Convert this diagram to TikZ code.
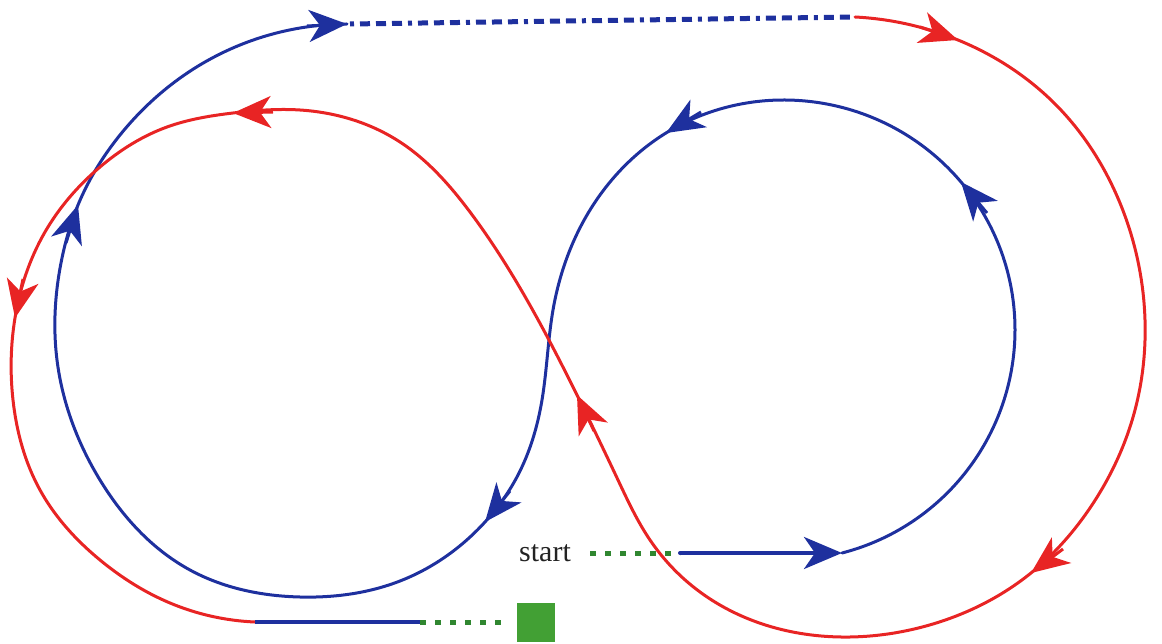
\documentclass[tikz,border=0pt]{standalone}
\usepackage{fontspec}
\newfontfamily\labelfont{Liberation Serif}
\usetikzlibrary{arrows.meta,hobby}
\definecolor{bl}{RGB}{30,48,158}
\definecolor{rd}{RGB}{232,36,36}
\definecolor{gr}{RGB}{48,135,48}
\definecolor{grbox}{RGB}{66,160,52}
\definecolor{txt}{RGB}{35,35,35}
\begin{document}
\begin{tikzpicture}[x=1pt,y=-1pt,
  blueline/.style={draw=bl, line width=3pt, line cap=round, line join=round},
  redline/.style={draw=rd, line width=3pt, line cap=round, line join=round},
  bigtip/.style={-{Stealth[length=38pt,width=32pt,inset=11pt]}},
  gdash/.style={draw=gr, line width=5pt, dash pattern=on 6pt off 9pt},
  bdashdot/.style={draw=bl, line width=5pt, dash pattern=on 4pt off 6pt on 10pt off 6pt on 10pt off 6pt on 10pt off 6pt}]
\useasboundingbox (0,0) rectangle (1162,644);

% ---- blue main curve (right loop, crossing, left loop)
\draw[blueline, use Hobby shortcut] (842,553) .. (961,478) .. (1015,330) .. (961,182)
 .. (785,100) .. (666,133) .. (590,210) .. (553,310) .. (542,400) .. (518,475)
 .. (485,522) .. (400,581) .. (300,597) .. (190,570) .. (100,480) .. (57,360)
 .. (62,258) .. (78,205) .. (120,135) .. (205,62) .. (347,24);

% ---- red main curve
\draw[redline, use Hobby shortcut] (855,17) .. (958,40) .. (1059,108) .. (1117,196)
 .. (1145,320) .. (1135,410) .. (1092,505) .. (1031,573) .. (926,626) .. (850,637)
 .. (772,627) .. (700,592) .. (650,540) .. (618,480) .. (577,395) .. (527,300)
 .. (470,212) .. (400,142) .. (300,110) .. (233,113) .. (167,127) .. (100,167)
 .. (45,232) .. (15,318) .. (13,400) .. (40,490) .. (100,560) .. (170,603) .. (255,622);

% ---- blue dash-dot top line
\coordinate (t1) at (350,24);
\coordinate (t2) at (855,17);
\draw[bdashdot] (t1) -- (t2);

% ---- start
\node[anchor=base west, inner sep=0pt, text=txt, font=\labelfont\fontsize{30}{36}\selectfont] (startlbl) at (519,561) {start};
\coordinate (s1) at (590,553);
\coordinate (s2) at (680,553);
\coordinate (s3) at (842,553);
\draw[gdash] (s1) -- (s2);
\draw[blueline, line width=4pt, bigtip] (s2) -- (s3);

% ---- end
\node[fill=grbox, minimum width=38pt, minimum height=39pt, inner sep=0pt] (goal) at (536,622) {};
\coordinate (e1) at (255,622);
\coordinate (e2) at (420,622);
\coordinate (e3) at (503,622);
\draw[blueline, line width=4pt, line cap=butt] (e1) -- (e2);
\draw[gdash] (e2) -- (e3);

% ---- blue arrowheads
\coordinate (b2t) at (961,182);  \coordinate (b2b) at (987,213);
\coordinate (b3t) at (666,133);  \coordinate (b3b) at (701,112);
\coordinate (b4t) at (485,522);  \coordinate (b4b) at (510,491);
\coordinate (b5t) at (78,205);   \coordinate (b5b) at (66,243);
\coordinate (b6t) at (347,24);   \coordinate (b6b) at (307,26);
\foreach \p in {b2,b3,b4,b5,b6}
  \draw[blueline, line cap=butt, bigtip] (\p b) -- (\p t);

% ---- red arrowheads
\coordinate (r1t) at (958,40);   \coordinate (r1b) at (920,27);
\coordinate (r2t) at (1031,573); \coordinate (r2b) at (1063,549);
\coordinate (r3t) at (577,395);  \coordinate (r3b) at (594,431);
\coordinate (r4t) at (233,113);  \coordinate (r4b) at (273,112);
\coordinate (r5t) at (15,318);   \coordinate (r5b) at (23,279);
\foreach \p in {r1,r2,r3,r4,r5}
  \draw[redline, line cap=butt, bigtip] (\p b) -- (\p t);
\end{tikzpicture}
\end{document}
